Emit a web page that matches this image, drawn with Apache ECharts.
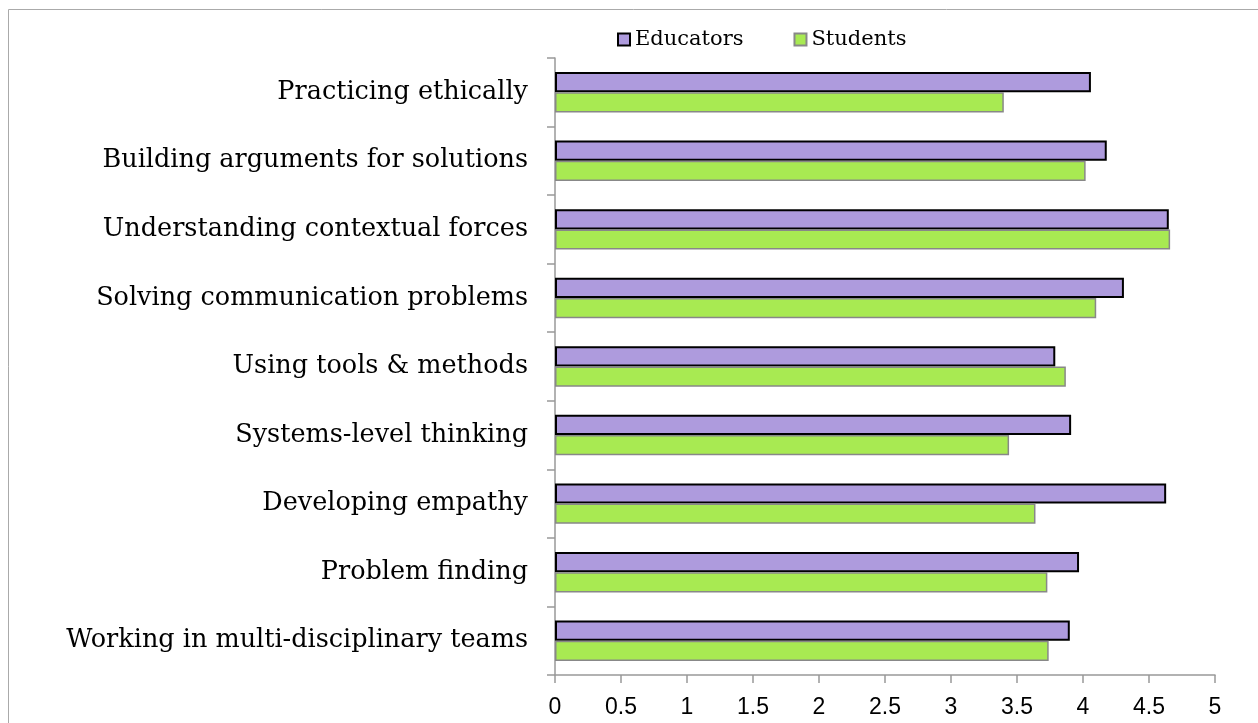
<!DOCTYPE html>
<html>
<head>
<meta charset="utf-8">
<script src="https://cdn.jsdelivr.net/npm/echarts@6/dist/echarts.min.js"></script>
<style>
  html, body { margin: 0; padding: 0; background: #fff; }
  #chart-container { width: 1258px; height: 723px; }
</style>
</head>
<body>
<div id="chart-container"></div>
<script>
// skills, listed top to bottom
var skills = [
  'Practicing ethically',
  'Building arguments for solutions',
  'Understanding contextual forces',
  'Solving communication problems',
  'Using tools & methods',
  'Systems-level thinking',
  'Developing empathy',
  'Problem finding',
  'Working in multi-disciplinary teams'
];
var educators = [4.06, 4.18, 4.65, 4.31, 3.79, 3.91, 4.63, 3.97, 3.90];
var students = [3.40, 4.02, 4.66, 4.10, 3.87, 3.44, 3.64, 3.73, 3.74];

var dom = document.getElementById('chart-container');
var myChart = echarts.init(dom, null, { renderer: 'canvas' });

var serif = 'DejaVu Serif';
var option = {
  animation: false,
  graphic: [{
    type: 'rect',
    shape: { x: 8.5, y: 9.5, width: 1400, height: 900 },
    style: { fill: 'none', stroke: '#aaaaaa', lineWidth: 1 },
    silent: true
  }],
  legend: {
    top: 24,
    left: 612,
    itemWidth: 12,
    itemHeight: 12,
    itemGap: 50,
    icon: 'rect',
    textStyle: { fontFamily: serif, fontSize: 21, color: '#000' },
    data: ['Educators', 'Students']
  },
  grid: { left: 555, right: 43, top: 58, bottom: 48 },
  xAxis: {
    type: 'value',
    min: 0,
    max: 5,
    interval: 0.5,
    splitLine: { show: false },
    axisLine: { show: true, lineStyle: { color: '#999', width: 1.5 } },
    axisTick: { show: true, length: 8, lineStyle: { color: '#999', width: 1.5 } },
    axisLabel: { margin: 21, fontFamily: 'Liberation Sans', fontSize: 23, color: '#000' }
  },
  yAxis: {
    type: 'category',
    inverse: true,
    data: skills,
    axisLine: { show: true, lineStyle: { color: '#999', width: 1.5 } },
    axisTick: { show: true, length: 8, lineStyle: { color: '#999', width: 1.5 } },
    axisLabel: { margin: 27, fontFamily: serif, fontSize: 25.5, color: '#000' }
  },
  series: [
    {
      name: 'Educators',
      type: 'bar',
      data: educators,
      barGap: '0%',
      barCategoryGap: '41%',
      itemStyle: { color: '#ae9bdd', borderColor: '#000', borderWidth: 2 }
    },
    {
      name: 'Students',
      type: 'bar',
      data: students,
      itemStyle: { color: '#a8ea52', borderColor: '#888', borderWidth: 1.5 }
    }
  ]
};

myChart.setOption(option);
window.addEventListener('resize', myChart.resize);
</script>
</body>
</html>
